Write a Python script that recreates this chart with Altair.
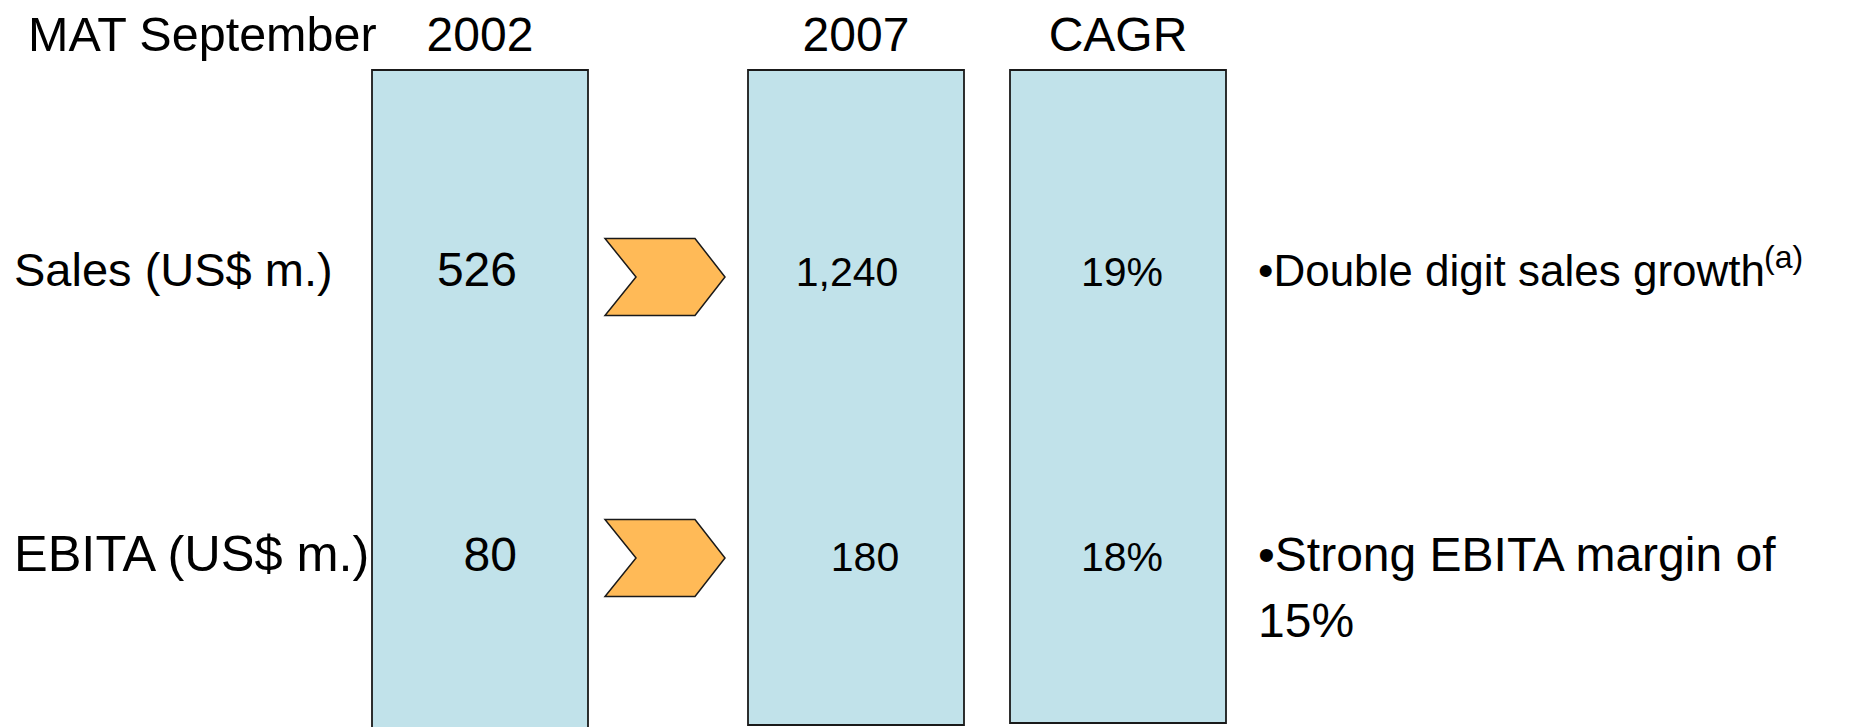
import altair as alt
import pandas as pd

W, H = 1854, 727
FONT = "Liberation Sans"

# ---- content -------------------------------------------------------------
corner_label = "MAT September"
columns = ["2002", "2007", "CAGR"]
row_labels = ["Sales (US$ m.)", "EBITA (US$ m.)"]
sales_values = ["526", "1,240", "19%"]
ebita_values = ["80", "180", "18%"]
notes = [["•Double digit sales growth"], ["•Strong EBITA margin of", "15%"]]
note_refs = ["(a)", ""]

# ---- layout (pixels) -----------------------------------------------------
col_center = {"2002": 480, "2007": 856, "CAGR": 1118}
col_half_width = 108
box_top = 70
box_bottom = {"2002": 740, "2007": 725, "CAGR": 723}
row_baseline = [286, 571]
header_baseline = 51
label_x = 14
label_size = [47, 50.5]
# value anchors per row: first-year figures are right aligned, others centred
value_anchor = [
    {"2002": 517, "2007": 847, "CAGR": 1122},
    {"2002": 517, "2007": 865, "CAGR": 1122},
]
note_x = 1258
note_size = [44, 48]
note_line_height = 66
arrow_x = 665
arrow_size = 14400          # symbol scaled to a 120 px wide box
ref_x = 1764
ref_rise = 18

BOX_FILL = "#C1E2EA"
ARROW_FILL = "#FFBA57"
EDGE = "#1a1a1a"

# chevron outline in the symbol's unit square
CHEVRON = "M -1 -0.642 L 0.5 -0.642 L 1 0 L 0.5 0.642 L -1 0.642 L -0.483 0 Z"

x_scale = alt.Scale(domain=[0, W], nice=False, zero=False)
y_scale = alt.Scale(domain=[0, H], nice=False, zero=False, reverse=True)


def X(field="x"):
    return alt.X(f"{field}:Q", scale=x_scale, axis=None)


def Y(field="y"):
    return alt.Y(f"{field}:Q", scale=y_scale, axis=None)


def fixed_size():
    return alt.Size("size:Q", scale=None, legend=None)


# column boxes
boxes = pd.DataFrame({
    "col": columns,
    "x": [col_center[c] - col_half_width for c in columns],
    "x2": [col_center[c] + col_half_width for c in columns],
    "y": [box_top] * len(columns),
    "y2": [box_bottom[c] for c in columns],
})
box_layer = alt.Chart(boxes).mark_rect(
    fill=BOX_FILL, stroke=EDGE, strokeWidth=1.8
).encode(x=X(), x2="x2:Q", y=Y(), y2="y2:Q")

# column headers and the corner label
headers = pd.DataFrame({
    "text": columns,
    "x": [col_center[c] for c in columns],
    "y": [header_baseline] * len(columns),
})
header_layer = alt.Chart(headers).mark_text(
    font=FONT, fontSize=48, align="center", baseline="alphabetic", color="black"
).encode(x=X(), y=Y(), text="text:N")

corner = pd.DataFrame({"text": [corner_label], "x": [28], "y": [header_baseline]})
corner_layer = alt.Chart(corner).mark_text(
    font=FONT, fontSize=48.5, align="left", baseline="alphabetic", color="black"
).encode(x=X(), y=Y(), text="text:N")

# row labels
labels = pd.DataFrame({"text": row_labels, "x": [label_x] * 2,
                       "y": row_baseline, "size": label_size})
label_layer = alt.Chart(labels).mark_text(
    font=FONT, align="left", baseline="alphabetic", color="black"
).encode(x=X(), y=Y(), text="text:N", size=fixed_size())

# cell values
first_cells, other_cells = [], []
for r, vals in enumerate([sales_values, ebita_values]):
    for c, v in zip(columns, vals):
        rec = {"text": v, "col": c, "x": value_anchor[r][c], "y": row_baseline[r]}
        (first_cells if c == "2002" else other_cells).append(rec)

first_layer = alt.Chart(pd.DataFrame(first_cells)).mark_text(
    font=FONT, fontSize=48, align="right", baseline="alphabetic", color="black"
).encode(x=X(), y=Y(), text="text:N")

other_layer = alt.Chart(pd.DataFrame(other_cells)).mark_text(
    font=FONT, fontSize=41, align="center", baseline="alphabetic", color="black"
).encode(x=X(), y=Y(), text="text:N")

# growth arrows between the two years
arrows = pd.DataFrame({"x": [arrow_x] * 2, "y": [277, 558]})
arrow_layer = alt.Chart(arrows).mark_point(
    shape=CHEVRON, size=arrow_size, filled=True, fill=ARROW_FILL,
    stroke=EDGE, strokeWidth=1.5, opacity=1,
).encode(x=X(), y=Y())

# commentary on the right
note_rows = []
for r, lines in enumerate(notes):
    for i, line in enumerate(lines):
        note_rows.append({"text": line, "x": note_x, "size": note_size[r],
                          "y": row_baseline[r] + i * note_line_height})
note_layer = alt.Chart(pd.DataFrame(note_rows)).mark_text(
    font=FONT, align="left", baseline="alphabetic", color="black"
).encode(x=X(), y=Y(), text="text:N", size=fixed_size())

refs = pd.DataFrame({"text": [t for t in note_refs if t],
                     "x": [ref_x],
                     "y": [row_baseline[0] - ref_rise]})
ref_layer = alt.Chart(refs).mark_text(
    font=FONT, fontSize=32, align="left", baseline="alphabetic", color="black"
).encode(x=X(), y=Y(), text="text:N")

chart = alt.layer(
    box_layer, arrow_layer, header_layer, corner_layer, label_layer,
    first_layer, other_layer, note_layer, ref_layer,
).properties(
    width=W, height=H, autosize=alt.AutoSizeParams(type="none"), padding=0,
    background="white",
).configure_view(stroke=None)

chart.save("out.html", embed_options={"renderer": "svg", "actions": False})
